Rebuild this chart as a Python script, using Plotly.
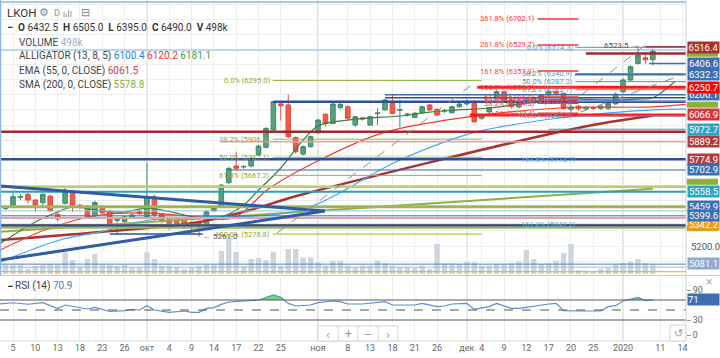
import plotly.graph_objects as go

W, H = 720, 358

def px(x):
    return x / W

def py(y):
    return 1 - y / H

# ---------------- data ----------------
bar_index = list(range(-2, 87))
open_p = [5460, 5447, 5471, 5522, 5542, 5504, 5487, 5530, 5409, 5482,
          5559, 5470, 5463, 5400, 5460, 5427, 5370, 5362, 5388, 5427,
          5395, 5526, 5411, 5376, 5378, 5372, 5352, 5352, 5339, 5433,
          5460, 5619, 5729, 5722, 5729, 5802, 5853, 5967, 6140, 6133,
          5918, 5808, 5857, 5949, 6071, 6011, 6115, 6121, 6000, 6048,
          6000, 6076, 6100, 6144, 6098, 6068, 6051, 6082, 6133, 6104,
          6093, 6082, 6121, 6140, 6144, 6045, 6088, 6177, 6221, 6166,
          6120, 6145, 6175, 6155, 6199, 6222, 6210, 6105, 6125, 6108,
          6115, 6110, 6111, 6140, 6221, 6298, 6408, 6445, 6432.5]
high_p = [5470, 5462, 5553, 5545, 5550, 5510, 5548, 5540, 5425, 5592,
          5565, 5478, 5470, 5500, 5470, 5435, 5385, 5400, 5412, 5440,
          5750, 5540, 5420, 5390, 5385, 5380, 5365, 5370, 5440, 5460,
          5610, 5720, 5824, 5735, 5790, 5870, 5985, 6160, 6150, 6203,
          5925, 5865, 5930, 6040, 6080, 6145, 6145, 6130, 6062, 6055,
          6062, 6110, 6172, 6199, 6166, 6080, 6085, 6128, 6140, 6110,
          6108, 6128, 6145, 6170, 6166, 6072, 6120, 6230, 6230, 6172,
          6155, 6185, 6190, 6205, 6235, 6240, 6215, 6135, 6130, 6128,
          6125, 6132, 6150, 6215, 6310, 6395, 6523.5, 6480, 6505]
low_p = [5415, 5438, 5465, 5505, 5480, 5427, 5455, 5425, 5362, 5475,
         5425, 5445, 5382, 5390, 5410, 5340, 5280, 5350, 5380, 5400,
         5388, 5395, 5350, 5305, 5320, 5310, 5300, 5261, 5330, 5425,
         5455, 5610, 5700, 5712, 5720, 5795, 5845, 5960, 6030, 5915,
         5810, 5800, 5850, 5940, 5990, 6005, 6105, 6035, 5990, 6030,
         5995, 6000, 6095, 6070, 5985, 6055, 6045, 6075, 6095, 6060,
         6080, 6075, 6115, 6130, 6015, 6035, 6080, 6170, 6155, 6110,
         6110, 6138, 6145, 6150, 6190, 6195, 6100, 6085, 6095, 6100,
         6100, 6100, 6100, 6135, 6210, 6290, 6400, 6405, 6395]
close_p = [5425, 5450, 5526, 5527, 5504, 5471, 5542, 5433, 5378, 5559,
           5471, 5460, 5390, 5487, 5420, 5345, 5374, 5393, 5405, 5414,
           5526, 5405, 5370, 5334, 5340, 5334, 5348, 5348, 5427, 5451,
           5603, 5714, 5714, 5726, 5780, 5861, 5978, 6155, 6128, 5923,
           5824, 5857, 5923, 6033, 6011, 6139, 6137, 6045, 6055, 6040,
           6055, 6080, 6166, 6078, 6102, 6072, 6078, 6121, 6100, 6066,
           6097, 6121, 6139, 6150, 6022, 6066, 6115, 6221, 6166, 6121,
           6145, 6170, 6155, 6195, 6221, 6210, 6110, 6120, 6108, 6118,
           6112, 6125, 6144, 6205, 6298, 6386, 6463, 6432, 6490]
volume_k = [400, 450, 450, 450, 250, 400, 450, 500, 450, 1080,
            700, 400, 750, 1000, 450, 450, 400, 450, 330, 330,
            1080, 750, 400, 400, 330, 250, 330, 400, 450, 450,
            1150, 1830, 1110, 400, 750, 800, 700, 1110, 400, 1250,
            1250, 830, 830, 580, 415, 665, 665, 415, 330, 415,
            415, 665, 530, 415, 330, 330, 300, 415, 250, 1500,
            530, 530, 500, 615, 580, 415, 415, 500, 500, 530,
            615, 1200, 750, 500, 530, 665, 1050, 1500, 200, 165,
            80, 260, 300, 450, 550, 600, 750, 550, 498]

tick_index = [0, 3, 6, 9, 12, 15, 18, 21, 24, 27, 30, 33, 36, 41, 45, 48, 51, 54, 57,
              61, 63, 66, 69, 72, 75, 78, 82, 87, 90]
tick_labels = ["5", "10", "13", "18", "23", "26", "окт", "4", "9", "14", "17", "22", "25",
               "ноя", "8", "13", "18", "21", "26", "дек", "4", "9", "12", "17", "20", "25",
               "2020", "11", "14"]
month_index = [18, 41, 61, 82]

rsi_index = [-2, 0, 1, 2, 4, 6, 7, 8, 9, 10, 11, 12, 13, 15, 16, 17, 18, 19, 21, 23,
             24, 25, 26, 27, 28, 29, 31, 33, 35, 36, 37, 38, 40, 41, 43, 44, 45, 47, 50, 51,
             54, 55, 57, 58, 59, 61, 62, 64, 65, 67, 68, 70, 72, 73, 74, 76, 79, 80, 81, 82,
             84, 85, 86]
rsi_value = [62, 64.5, 63, 61.5, 64.7, 53, 60, 57, 55.5, 52, 55.3, 51.5, 47, 48.7, 51, 50,
             58.7, 50, 45.3, 48, 45.3, 45.3, 53.3, 54.7, 61.3, 66, 67.3, 70, 80, 75.3, 63.3,
             58, 60, 64.7, 68, 66.7, 62, 62, 66.7, 60, 60, 63.3, 56.7, 58, 62, 63.3, 51.3,
             56.7, 63.3, 53.3, 53.3, 58, 62, 63.3, 48.7, 48, 48, 56.7, 58.7, 68, 75.3, 68.7,
             70.9]

# indicator lines (bar index, price)
lips_i = [-2, 3, 6, 8, 12, 15, 18, 22, 25, 28, 31, 33, 36, 39, 41, 45, 48, 52, 56, 60, 64, 68, 72, 76, 80, 84, 86, 89]
lips_p = [5207, 5359, 5425, 5458, 5431, 5425, 5451, 5418, 5385, 5392, 5471, 5570, 5716, 5901, 5994,
          6033, 6047, 6060, 6086, 6100, 6113, 6139, 6166, 6172, 6166, 6172, 6181.1, 6290]
teeth_i = [-1.7, 5, 11.7, 18.4, 25.1, 29.6, 34.5, 39.9, 49.7, 61, 73.5, 86, 91]
teeth_p = [5174, 5319, 5405, 5418, 5392, 5385, 5583, 5736, 5948, 6053, 6113, 6120.2, 6139]
jaw_i = [-1.7, 6.3, 11.7, 18.4, 25.1, 38.6, 52, 61.8, 73.5, 86, 92]
jaw_p = [5094, 5240, 5293, 5372, 5392, 5438, 5769, 5948, 6047, 6100.4, 6106]
ema_i = [-1.7, 11.7, 25.1, 31.9, 38.6, 73.5, 80.2, 86]
ema_p = [5240, 5293, 5359, 5438, 5537, 5956, 6020, 6061.5]
sma_i = [-2, 86]
sma_p = [5293, 5578.8]

# drawn horizontal levels: (price, colour, width, first bar, last bar)
XL, XR = -1.75, 90.46
hlines = [
    (6496.0, '#8db7e3', 1, XL, XR),
    (5956.0, '#a3272b', 2.5, XL, XR),
    (5889.2, '#eaa3a3', 1.5, 28, XR),
    (5773.7, '#2c4f9a', 2.5, XL, XR),
    (5702.9, '#3d6eb0', 1, 28.8, XR),
    (5592.0, '#b9cc72', 2.5, XL, XR),
    (5558.5, '#2a9fbc', 2, XL, XR),
    (5460.0, '#9cb84f', 3, XL, XR),
    (5432.0, '#8ec5e8', 1, XL, XR),
    (5399.6, '#3d6eb0', 1, XL, XR),
    (5385.0, '#e4a4a4', 2, XL, XR),
    (5342.2, '#f5a623', 1.5, XL, XR),
    (5335.0, '#284d99', 2.5, XL, XR),
    (5320.0, '#9cb84f', 2, XL, XR),
    (5279.0, '#2c4f9a', 1.5, 13, 25.5),
    (5080.0, '#5b7fb5', 1, XL, XR),
    (5060.0, '#8fc1e3', 1, XL, XR),
    (5030.0, '#f5a623', 1, XL, XR),
    (6250.7, '#ff1a1a', 3, 62.4, XR),
    (6066.9, '#ff1a1a', 3, 61.4, XR),
    (6155.0, '#2c4f9a', 2.5, 35, XR),
    (6200.1, '#3d6eb0', 1.5, 50, XR),
    (6180.0, '#2c4f9a', 1.5, 50, XR),
    (6516.4, '#a3272b', 2, 85, XR),
    (6474.0, '#a3272b', 2.5, 77, XR),
    (6406.6, '#3d6eb0', 1.5, 85.5, XR),
    (6332.3, '#3d6eb0', 1.5, 75.5, XR),
    (5972.7, '#2a9fbc', 1, 72, XR),
]
# trend lines: (bar0, price0, bar1, price1, colour, width, dash)
segments = [
    (-1.75, 5597, 41.9, 5431, '#2e5ca5', 3, 'solid'),
    (-1.75, 5107, 41.9, 5431, '#2e5ca5', 3, 'solid'),
    (35.5, 5286, 62.5, 6298, '#8c8c8c', 1, 'dash'),
    (72.6, 6053, 85.0, 6530, '#8c8c8c', 1, 'dash'),
    (74.0, 6045, 90.4, 6340, '#8c8c8c', 1, 'dash'),
]

fib1_p = [6295.0, 5906.8, 5787.1, 5667.2, 5278.8]
fib1_t = ["0.0% (6295.0)", "38.2% (5906.8)", "50.0% (5787.1)", "61.8% (5667.2)", "100.0% (5278.8)"]
fib2_p = [6078.4, 6144.3, 6164.6, 6184.9, 6250.8, 6357.3, 6529.7, 6702.1]
fib2_t = ["0.0% (6078.4)", "38.2% (6144.3)", "50.0% (6164.6)", "61.8% (6184.9)", "100.0% (6250.8)",
          "161.8% (6357.3)", "261.8% (6529.7)", "361.8% (6702.1)"]
fib3_p = [6514.3, 6340.9, 6287.3, 6233.7, 6157.5, 6060.3]
fib3_t = ["0.0% (6514.3)", "38.2% (6340.9)", "50.0% (6287.3)", "61.8% (6233.7)", "78.6% (6157.5)",
          "100.0% (6060.3)"]

# price-scale labels (value, colour); hidden ones only show as a colour strip
axis_label_p = [5459.9, 5342.2, 6516.4, 6406.6, 6332.3, 6200.1,
                6250.7, 6066.9, 5972.7, 5889.2, 5774.9, 5702.9, 5558.5, 5399.6, 5081.1]
axis_label_c = ['#3d6eb0', '#f39c12', '#a83232', '#3d6eb0', '#3d6eb0', '#3d6eb0',
                '#ff0000', '#d23a3a', '#2ea5c6', '#b23b3b', '#b23b3b', '#3d6eb0', '#2ea5c6',
                '#3d6eb0', '#8fa9d0']
hidden_label_p = [6472.0, 6135.0, 5625.0, 5318.0]

# ---------------- figure ----------------
FONT = "Roboto, Arial, sans-serif"
fig = go.Figure()

fig.add_trace(go.Bar(x=bar_index, y=volume_k, xaxis='x', yaxis='y3', width=0.72,
                     marker=dict(color='#cdd5de', line=dict(width=0)),
                     showlegend=False, hoverinfo='skip'))

fig.add_trace(go.Candlestick(x=bar_index, open=open_p, high=high_p, low=low_p, close=close_p,
                             xaxis='x', yaxis='y', whiskerwidth=0,
                             increasing=dict(line=dict(color='#3f8a68', width=1), fillcolor='#5c9f80'),
                             decreasing=dict(line=dict(color='#e44a3c', width=1), fillcolor='#f05a4b'),
                             showlegend=False, hoverinfo='skip'))

for xs, ys, col, wd in [(sma_i, sma_p, '#8db23f', 2),
                         (ema_i, ema_p, '#a8332f', 2.5),
                         (jaw_i, jaw_p, '#42a5f5', 1.2),
                         (teeth_i, teeth_p, '#f23a2a', 1.2),
                         (lips_i, lips_p, '#3c7d3c', 1.2)]:
    fig.add_trace(go.Scatter(x=xs, y=ys, mode='lines', line=dict(color=col, width=wd, shape='spline'),
                             xaxis='x', yaxis='y', showlegend=False, hoverinfo='skip'))

# RSI fill above 70
fx, fy = [], []
for k in range(len(rsi_index)):
    fx.append(rsi_index[k]); fy.append(rsi_value[k])
    if k + 1 < len(rsi_index):
        a, b = rsi_value[k], rsi_value[k + 1]
        if (a - 70) * (b - 70) < 0:
            t = (70 - a) / (b - a)
            fx.append(rsi_index[k] + t * (rsi_index[k + 1] - rsi_index[k])); fy.append(70)
fig.add_trace(go.Scatter(x=fx, y=[70] * len(fx), mode='lines', line=dict(width=0),
                         xaxis='x2', yaxis='y2', showlegend=False, hoverinfo='skip'))
fig.add_trace(go.Scatter(x=fx, y=[max(v, 70) for v in fy], mode='lines', line=dict(width=0),
                         fill='tonexty', fillcolor='#6ee06e',
                         xaxis='x2', yaxis='y2', showlegend=False, hoverinfo='skip'))
fig.add_trace(go.Scatter(x=rsi_index, y=rsi_value, mode='lines', line=dict(color='#5b8dcc', width=1.2),
                         xaxis='x2', yaxis='y2', showlegend=False, hoverinfo='skip'))

shapes = []
for m in month_index:
    shapes.append(dict(type='line', xref='x', yref='paper', x0=m, x1=m, y0=py(341), y1=py(0),
                       line=dict(color='#bdbdbd', width=1), layer='below'))
for (p, c, w, a, b) in hlines:
    shapes.append(dict(type='line', xref='x', yref='y', x0=a, x1=b, y0=p, y1=p,
                       line=dict(color=c, width=w)))
for (a, p0, b, p1, c, w, d) in segments:
    shapes.append(dict(type='line', xref='x', yref='y', x0=a, x1=b, y0=p0, y1=p1,
                       line=dict(color=c, width=w, dash=d)))
for p in fib1_p:
    shapes.append(dict(type='line', xref='x', yref='y', x0=34.9, x1=63, y0=p, y1=p,
                       line=dict(color='#97b447', width=1)))
for p in fib2_p:
    shapes.append(dict(type='line', xref='x', yref='y', x0=70.5, x1=76, y0=p, y1=p,
                       line=dict(color='#ff3030', width=1.5)))
for p in fib3_p:
    shapes.append(dict(type='line', xref='x', yref='y', x0=75.6, x1=XR, y0=p, y1=p,
                       line=dict(color='#5a93bd', width=1)))
for lv, d in [(70, 'solid'), (50, 'dash'), (30, 'solid')]:
    shapes.append(dict(type='line', xref='x2', yref='y2', x0=XL, x1=XR, y0=lv, y1=lv,
                       line=dict(color='#555555', width=1, dash=d)))
for p in hidden_label_p:
    shapes.append(dict(type='rect', xref='paper', yref='y', x0=px(687), x1=px(718), y0=p - 20, y1=p + 20,
                       line=dict(width=0), fillcolor='#8bb03c'))
shapes += [
    dict(type='line', xref='paper', yref='paper', x0=0, x1=px(686), y0=py(2), y1=py(2), line=dict(color='#8db7e3', width=1.5)),
    dict(type='line', xref='paper', yref='paper', x0=px(0.5), x1=px(0.5), y0=py(275), y1=py(0), line=dict(color='#8db7e3', width=1.5)),
    dict(type='line', xref='paper', yref='paper', x0=0, x1=1, y0=py(275.5), y1=py(275.5), line=dict(color='#c9c9c9', width=1)),
    dict(type='line', xref='paper', yref='paper', x0=0, x1=px(686), y0=py(341), y1=py(341), line=dict(color='#d6d6d6', width=1)),
    dict(type='line', xref='paper', yref='paper', x0=px(686), x1=px(686), y0=py(341), y1=py(0), line=dict(color='#cfcfcf', width=1)),
    dict(type='rect', xref='paper', yref='paper', x0=px(318), x1=px(398), y0=py(341), y1=py(326),
         line=dict(color='#d4d4d4', width=1), fillcolor='white'),
    dict(type='line', xref='paper', yref='paper', x0=px(338), x1=px(338), y0=py(341), y1=py(326), line=dict(color='#d4d4d4', width=1)),
    dict(type='line', xref='paper', yref='paper', x0=px(358), x1=px(358), y0=py(341), y1=py(326), line=dict(color='#d4d4d4', width=1)),
    dict(type='line', xref='paper', yref='paper', x0=px(378), x1=px(378), y0=py(341), y1=py(326), line=dict(color='#d4d4d4', width=1)),
    dict(type='rect', xref='paper', yref='paper', x0=px(670), x1=px(686), y0=py(341), y1=py(325),
         line=dict(color='#d4d4d4', width=1), fillcolor='white'),
]
for k, hgt in enumerate([5, 3, 7, 6]):
    shapes.append(dict(type='line', xref='paper', yref='paper', x0=px(64 + 2.3 * k), x1=px(64 + 2.3 * k),
                       y0=py(17), y1=py(17 - hgt), line=dict(color='#9a9a9a', width=1)))

ann = []

def txt(x, y, s, size=10.5, color='#333', anchor='left', **kw):
    ann.append(dict(text=s, x=px(x), y=py(y), xref='paper', yref='paper', showarrow=False,
                    xanchor=anchor, yanchor='middle', font=dict(family=FONT, size=size, color=color), **kw))

txt(5, 13, "LKOH", 11.5, '#333')
txt(37, 13, "⚙", 11, '#8a8a8a')
txt(52, 13, "D", 9.5, '#9a9a9a')
txt(79, 13, "⊟", 11, '#8a8a8a')
txt(5, 27, "<b>−</b>", 11, '#333')
txt(16, 27, "<b>O</b> 6432.5  <b>H</b> 6505.0  <b>L</b> 6395.0  <b>C</b> 6490.0  <b>V</b> 498k", 10, '#333')
txt(17, 42, "VOLUME <span style='color:#9bb1c9'>498k</span>", 10, '#444')
txt(17, 56, "ALLIGATOR (13, 8, 5) <span style='color:#1e88e5'>6100.4</span> "
            "<span style='color:#e53935'>6120.2</span> <span style='color:#43a047'>6181.1</span>", 10, '#444')
txt(17, 71, "EMA (55, 0, CLOSE) <span style='color:#c9413b'>6061.5</span>", 10, '#444')
txt(17, 85, "SMA (200, 0, CLOSE) <span style='color:#8db23f'>5578.8</span>", 10, '#444')
txt(5, 286, "<b>−</b>", 11, '#333')
txt(13, 286, "RSI (14) <span style='color:#4a7fc1'>70.9</span>", 10, '#444')

txt(328, 334, "‹", 13, '#a0a0a0', 'center')
txt(348, 334, "+", 12, '#a0a0a0', 'center')
txt(368, 334, "—", 10, '#a0a0a0', 'center')
txt(388, 334, "›", 13, '#a0a0a0', 'center')
txt(678, 333, "↺", 11, '#a0a0a0', 'center')
txt(709, 282, "×", 12, '#b0b0b0', 'center')

FIBF = 7.5
for p, s in zip(fib1_p, fib1_t):
    ann.append(dict(text=s, x=34.8, y=p, xref='x', yref='y', showarrow=False, xanchor='right', yanchor='middle',
                    font=dict(family=FONT, size=FIBF, color='#8fab3a')))
for p, s in zip(fib2_p, fib2_t):
    ann.append(dict(text=s, x=70.4, y=p, xref='x', yref='y', showarrow=False, xanchor='right', yanchor='middle',
                    font=dict(family=FONT, size=FIBF, color='#ff3a3a')))
for p, s in zip(fib3_p, fib3_t):
    ann.append(dict(text=s, x=75.5, y=p, xref='x', yref='y', showarrow=False, xanchor='right', yanchor='middle',
                    font=dict(family=FONT, size=FIBF, color='#5a93bd')))
for p, s in [(5773.7, "161.8% (5773.7)"), (5342.2, "161.8% (5342.2)")]:
    ann.append(dict(text=s, x=68, y=p, xref='x', yref='y', showarrow=False, xanchor='left', yanchor='middle',
                    font=dict(family=FONT, size=FIBF, color='#5bc0de')))
ann.append(dict(text="6523.5 →", x=84.4, y=6523.5, xref='x', yref='y', showarrow=False, xanchor='right',
                yanchor='middle', font=dict(family=FONT, size=8, color='#555')))
ann.append(dict(text="← 5261.0", x=25.3, y=5261.0, xref='x', yref='y', showarrow=False, xanchor='left',
                yanchor='middle', font=dict(family=FONT, size=8, color='#555')))

for p, c in zip(axis_label_p, axis_label_c):
    ann.append(dict(text=f"{p:.1f}", x=px(687), y=p, xref='paper', yref='y', showarrow=False,
                    xanchor='left', yanchor='middle', width=31, height=11, bgcolor=c, borderpad=0,
                    font=dict(family=FONT, size=9.5, color='white')))
ann.append(dict(text="5200.0", x=px(689), y=5200, xref='paper', yref='y', showarrow=False,
                xanchor='left', yanchor='middle', font=dict(family=FONT, size=9.5, color='#555')))
ann.append(dict(text="71", x=px(687), y=70.9, xref='paper', yref='y2', showarrow=False,
                xanchor='left', yanchor='middle', width=31, height=11, bgcolor='#3d6eb0', borderpad=0,
                align='left', font=dict(family=FONT, size=9.5, color='white')))

fig.update_layout(
    width=W, height=H, margin=dict(l=0, r=0, t=0, b=0, pad=0, autoexpand=False),
    paper_bgcolor='white', plot_bgcolor='white', showlegend=False,
    font=dict(family=FONT), boxgap=0.12,
    xaxis=dict(domain=[0, px(686)], range=[XL, XR], anchor='y', tickvals=tick_index,
               showticklabels=False, showgrid=True, gridcolor='#eeeeee', zeroline=False,
               rangeslider=dict(visible=False), automargin=False),
    yaxis=dict(domain=[py(274), 1], range=[5014.8, 6827.3], side='right', dtick=100,
               showticklabels=False, showgrid=True, gridcolor='#eeeeee', zeroline=False, automargin=False),
    yaxis3=dict(overlaying='y', range=[0, 13700], visible=False, showgrid=False, automargin=False),
    xaxis2=dict(domain=[0, px(686)], range=[XL, XR], anchor='y2', matches='x', tickvals=tick_index,
                ticktext=tick_labels, showgrid=True, gridcolor='#eeeeee', zeroline=False,
                tickfont=dict(size=9, color='#666'), ticks='', automargin=False),
    yaxis2=dict(domain=[py(341), py(277)], range=[-12, 116], side='right', anchor='x2',
                tickvals=[0, 30, 90], ticktext=['0', '30', '90'], ticks='outside', ticklen=4,
                tickcolor='#999', tickfont=dict(size=9, color='#666'), showgrid=False, zeroline=False,
                automargin=False),
    shapes=shapes, annotations=ann,
)

fig.write_html("out.html", config={'displayModeBar': False},
               post_script="document.body.style.margin='0px';document.body.style.overflow='hidden';")
